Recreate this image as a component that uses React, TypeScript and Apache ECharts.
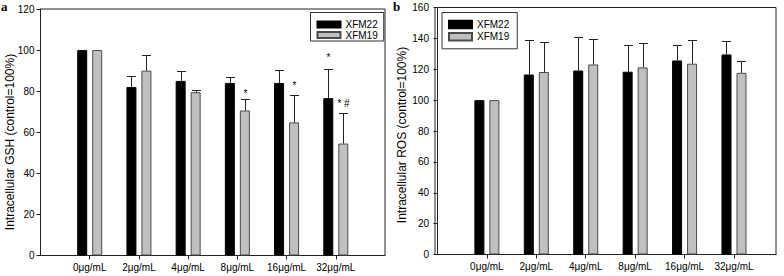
import React, { useEffect, useRef } from 'react';
import * as echarts from 'echarts';

const categories = ['0μg/mL', '2μg/mL', '4μg/mL', '8μg/mL', '16μg/mL', '32μg/mL'];
const seriesNames = ['XFM22', 'XFM19'];

// Panel a: intracellular GSH (control = 100%)
const gshXFM22 = [100, 82, 85, 84, 84, 76.6];
const gshXFM22Err = [0, 5.6, 5.0, 3.0, 6.5, 14.2];
const gshXFM22Marks = ['', '', '', '', '', '*'];
const gshXFM22MarkAt = [0, 0, 0, 0, 0, 96.4];
const gshXFM19 = [100, 90, 79.5, 70.6, 64.8, 54.5];
const gshXFM19Err = [0, 7.4, 1.3, 5.5, 13.1, 14.8];
const gshXFM19Marks = ['', '', '', '*', '*', '* #'];
const gshXFM19MarkAt = [0, 0, 0, 79, 82.7, 73.8];

// Panel b: intracellular ROS (control = 100%)
const rosXFM22 = [100, 116.6, 119.2, 118.4, 125.7, 129.6];
const rosXFM22Err = [0, 22.1, 21.7, 17.1, 9.8, 8.5];
const rosXFM19 = [100, 118.2, 123.1, 121.2, 123.6, 117.7];
const rosXFM19Err = [0, 19.4, 16.7, 15.6, 15.3, 7.4];
const noMarks = ['', '', '', '', '', ''];
const noMarkAt = [0, 0, 0, 0, 0, 0];

const gshTicks = { min: 0, max: 120, interval: 20 };
const rosTicks = { min: 0, max: 160, interval: 20 };

const FONT = '"Liberation Sans", Arial, sans-serif';
const SERIF = '"Liberation Serif", "Times New Roman", serif';
const AXIS = '#222';
const BLACK = '#000000';
const GRAY = '#c0c0c0';
const GRAY_EDGE = '#4a4a4a';
const positions = categories.map((_, i) => i + 1);

function barSeries(name: string, values: number[], g: number, color: string, edge: string) {
  return {
    type: 'bar',
    name,
    xAxisIndex: g,
    yAxisIndex: g,
    data: values.map((v, i) => [i + 1, v]),
    barWidth: 10,
    barGap: '50%',
    itemStyle: { color, borderColor: edge, borderWidth: 1 },
    silent: true,
  };
}

function errSeries(values: number[], errs: number[], marks: string[], markAt: number[], g: number, dx: number) {
  return {
    type: 'custom',
    xAxisIndex: g,
    yAxisIndex: g,
    z: 5,
    silent: true,
    data: values.map((v, i) => [i + 1, v, v + errs[i]]),
    encode: { x: 0, y: [1, 2] },
    renderItem: (params: any, api: any) => {
      const i = params.dataIndex;
      const x = api.value(0);
      const v = api.value(1);
      const top = api.value(2);
      const p0 = api.coord([x, v]);
      const p1 = api.coord([x, top]);
      const cx = Math.round(p0[0] + dx) + 0.5;
      const ty = Math.round(p1[1]) + 0.5;
      const children: any[] = [];
      if (errs[i] > 0) {
        children.push({ type: 'line', shape: { x1: cx, y1: p0[1], x2: cx, y2: ty }, style: { stroke: AXIS, lineWidth: 1 } });
        children.push({ type: 'line', shape: { x1: cx - 4.5, y1: ty, x2: cx + 4.5, y2: ty }, style: { stroke: AXIS, lineWidth: 1 } });
      }
      if (marks[i]) {
        const pm = api.coord([x, markAt[i]]);
        children.push({
          type: 'text',
          x: cx,
          y: pm[1],
          style: { text: marks[i], fill: '#000', font: '10px ' + FONT, align: 'center', verticalAlign: 'middle' },
        });
      }
      return { type: 'group', children };
    },
  };
}

function xAxis(g: number, min: number, max: number) {
  return {
    type: 'value',
    gridIndex: g,
    min,
    max,
    axisLine: { show: true, onZero: false, lineStyle: { color: AXIS, width: 1 } },
    axisTick: { show: true, customValues: positions, length: 4, lineStyle: { color: AXIS } },
    axisLabel: {
      customValues: positions,
      formatter: (v: number) => categories[Math.round(v) - 1] ?? '',
      margin: 7,
      fontSize: 10,
      color: '#000',
      fontFamily: FONT,
    },
    splitLine: { show: false },
  };
}

function yAxis(g: number, t: { min: number; max: number; interval: number }) {
  return {
    type: 'value',
    gridIndex: g,
    min: t.min,
    max: t.max,
    interval: t.interval,
    axisLine: { show: true, lineStyle: { color: AXIS, width: 1 } },
    axisTick: { show: true, length: 4, lineStyle: { color: AXIS } },
    axisLabel: { margin: 6, fontSize: 10, color: '#000', fontFamily: FONT },
    splitLine: { show: false },
  };
}

function legend(left: number, top: number, padding: number[], itemGap: number, itemHeight: number) {
  return {
    left,
    top,
    orient: 'vertical',
    data: seriesNames,
    icon: 'rect',
    itemWidth: 23,
    itemHeight,
    itemGap,
    padding,
    borderColor: '#333',
    borderWidth: 1,
    selectedMode: false,
    textStyle: { fontSize: 10, fontFamily: FONT, color: '#000', lineHeight: 10 },
  };
}

export default function App() {
  const ref = useRef<HTMLDivElement>(null);
  useEffect(() => {
    document.body.style.margin = '0';
    if (!ref.current) return;
    const chart = echarts.init(ref.current, undefined, { renderer: 'svg' });
    chart.setOption({
      animation: false,
      backgroundColor: '#ffffff',
      grid: [
        { left: 40.5, top: 9, width: 344.5, height: 246.5, show: true, borderColor: AXIS, borderWidth: 1, backgroundColor: 'transparent' },
        { left: 435, top: 7.5, width: 341, height: 247, show: true, borderColor: AXIS, borderWidth: 1, backgroundColor: 'transparent' },
      ],
      xAxis: [xAxis(0, 0, 7), xAxis(1, -0.05, 6.85)],
      yAxis: [yAxis(0, gshTicks), yAxis(1, rosTicks)],
      legend: [
        legend(310.5, 12.5, [7, 6, 1, 6], 0.5, 6),
        legend(442, 12.5, [7, 8, 7, 6], 2.3, 7.5),
      ],
      series: [
        barSeries(seriesNames[0], gshXFM22, 0, BLACK, BLACK),
        barSeries(seriesNames[1], gshXFM19, 0, GRAY, GRAY_EDGE),
        errSeries(gshXFM22, gshXFM22Err, gshXFM22Marks, gshXFM22MarkAt, 0, -7.5),
        errSeries(gshXFM19, gshXFM19Err, gshXFM19Marks, gshXFM19MarkAt, 0, 7.5),
        barSeries(seriesNames[0], rosXFM22, 1, BLACK, BLACK),
        barSeries(seriesNames[1], rosXFM19, 1, GRAY, GRAY_EDGE),
        errSeries(rosXFM22, rosXFM22Err, noMarks, noMarkAt, 1, -7.5),
        errSeries(rosXFM19, rosXFM19Err, noMarks, noMarkAt, 1, 7.5),
      ],
      graphic: [
        { type: 'text', x: 1, y: 0, style: { text: 'a', font: 'bold 13px ' + SERIF, fill: '#000', align: 'left', verticalAlign: 'top' } },
        { type: 'text', x: 393, y: 0, style: { text: 'b', font: 'bold 13px ' + SERIF, fill: '#000', align: 'left', verticalAlign: 'top' } },
        { type: 'text', x: 10, y: 142, rotation: Math.PI / 2, style: { text: 'Intracellular GSH (control=100%)', font: '12px ' + FONT, fill: '#000', align: 'center', verticalAlign: 'middle' } },
        { type: 'text', x: 402, y: 135, rotation: Math.PI / 2, style: { text: 'Intracellular ROS (control=100%)', font: '12px ' + FONT, fill: '#000', align: 'center', verticalAlign: 'middle' } },
      ],
    });
    return () => chart.dispose();
  }, []);
  return <div ref={ref} style={{ width: 784, height: 276 }} />;
}
